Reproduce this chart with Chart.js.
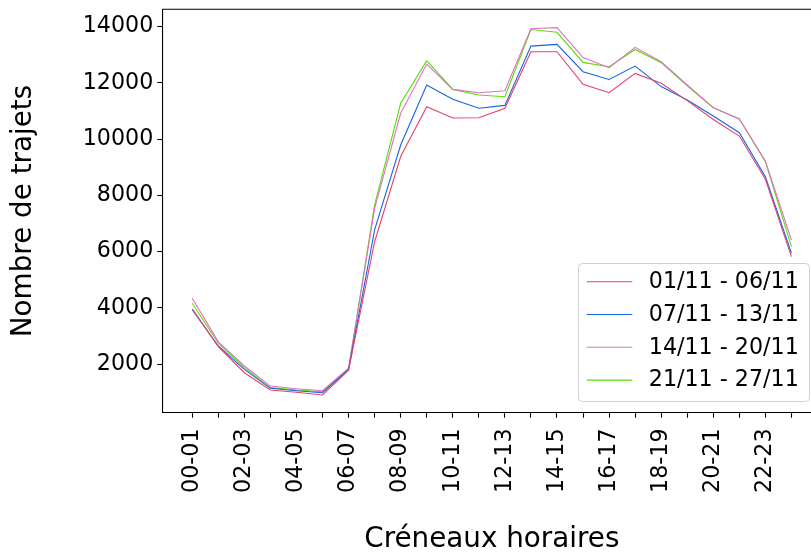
<!DOCTYPE html>
<html><head><meta charset="utf-8">
<script src="https://cdn.jsdelivr.net/npm/chart.js@4.4.1/dist/chart.umd.min.js"></script>
<style>
html,body{margin:0;padding:0;overflow:hidden;background:#fff;width:811px;height:556px}
#wrap{position:absolute;left:0;top:0;width:830px;height:556px}
</style>
</head><body><div id="wrap"><canvas id="c" width="830" height="556"></canvas></div>
<script>
const categories = ["00-01","01-02","02-03","03-04","04-05","05-06","06-07","07-08","08-09","09-10","10-11","11-12",
                    "12-13","13-14","14-15","15-16","16-17","17-18","18-19","19-20","20-21","21-22","22-23","23-24"];
const seriesLabels = ["01/11 - 06/11","07/11 - 13/11","14/11 - 20/11","21/11 - 27/11"];
const week1 = [3960,2620,1690,1075,995,900,1780,6350,9380,11150,10750,10760,11100,13110,13110,11950,11650,12340,11985,11370,10700,10110,8570,5820];
const week2 = [3930,2640,1810,1135,1050,980,1810,6770,9790,11925,11420,11100,11200,13310,13370,12400,12125,12600,11870,11390,10820,10230,8660,5940];
const week3 = [4340,2790,1930,1215,1120,1050,1850,7540,10920,12670,11770,11650,11720,13930,13965,12900,12540,13265,12755,11925,11120,10720,9220,6410];
const week4 = [4160,2740,1870,1160,1075,1015,1820,7660,11275,12790,11770,11570,11510,13900,13800,12730,12575,13190,12720,11900,11120,10715,9200,6175];
const yTickValues = [2000,4000,6000,8000,10000,12000,14000];
const xTitle = "Créneaux horaires";
const yTitle = "Nombre de trajets";

const colors = ["#e8406a","#1565e0","#e070c8","#55e000"];
const FAMILY = "'DejaVu Sans', sans-serif";
const allSeries = [week1, week2, week3, week4];

const framePlugin = {
  id: 'frame',
  afterDraw(chart) {
    const {ctx, chartArea: a} = chart;
    ctx.save();
    ctx.strokeStyle = '#000';
    ctx.lineWidth = 1.1;
    ctx.beginPath();
    ctx.moveTo(a.left, a.top); ctx.lineTo(a.right, a.top); ctx.lineTo(a.right, a.bottom);
    ctx.stroke();
    ctx.restore();
  }
};

const legendPlugin = {
  id: 'innerLegend',
  afterDraw(chart) {
    const {ctx, chartArea: a} = chart;
    const w = 231, h = 138;
    const right = a.right - 12.4, bottom = a.bottom - 11.7;
    const left = right - w, top = bottom - h;
    ctx.save();
    ctx.beginPath();
    ctx.roundRect(left + 0.5, top + 0.5, w, h, 4);
    ctx.fillStyle = 'rgba(255,255,255,0.8)';
    ctx.fill();
    ctx.strokeStyle = '#d0d0d0';
    ctx.lineWidth = 1;
    ctx.stroke();
    ctx.font = "22.2px " + FAMILY;
    ctx.textBaseline = 'middle';
    ctx.textAlign = 'left';
    chart.data.datasets.forEach((ds, i) => {
      const y = top + 18.7 + i * 32.8;
      ctx.strokeStyle = ds.borderColor;
      ctx.lineWidth = 1.1;
      ctx.beginPath();
      ctx.moveTo(left + 8.7, y); ctx.lineTo(left + 54.3, y);
      ctx.stroke();
      ctx.fillStyle = '#000';
      ctx.fillText(ds.label, left + 70.8, y + 0.5);
    });
    ctx.restore();
  }
};

new Chart(document.getElementById('c'), {
  type: 'line',
  data: {
    datasets: allSeries.map((s, k) => ({
      label: seriesLabels[k],
      data: s.map((v, i) => ({x: i, y: v})),
      borderColor: colors[k],
      backgroundColor: colors[k],
      borderWidth: 1.1,
      pointRadius: 0,
      fill: false,
      tension: 0
    }))
  },
  options: {
    responsive: false,
    animation: false,
    devicePixelRatio: 1,
    layout: {padding: {left: 0, top: 9.3, right: 830 - 821.4, bottom: 0}},
    plugins: {legend: {display: false}, tooltip: {enabled: false}},
    scales: {
      x: {
        type: 'linear', min: -1.15, max: 24.15,
        afterBuildTicks: s => { s.ticks = categories.map((_, i) => ({value: i})); },
        afterFit: s => { s.height = 143.3; s.paddingLeft = 0; s.paddingRight = 0; },
        grid: {drawOnChartArea: false, drawTicks: true, tickLength: 5, tickColor: '#000', tickWidth: 1.1},
        border: {display: true, color: '#000', width: 1.1},
        ticks: {
          autoSkip: false, maxRotation: 90, minRotation: 90, padding: 10.8, color: '#000',
          font: {family: FAMILY, size: 22.2},
          callback: v => (v % 2 === 0 ? categories[v] : '')
        },
        title: {display: true, text: xTitle, color: '#000',
                font: {family: FAMILY, size: 27.8, lineHeight: 1}, padding: {top: 0, bottom: 2}}
      },
      y: {
        type: 'linear', min: 268, max: 14619,
        afterBuildTicks: s => { s.ticks = yTickValues.map(v => ({value: v})); },
        afterFit: s => { s.width = 162.3; s.paddingTop = 0; s.paddingBottom = 0; },
        grid: {drawOnChartArea: false, drawTicks: true, tickLength: 5, tickColor: '#000', tickWidth: 1.1},
        border: {display: true, color: '#000', width: 1.1},
        ticks: {padding: 4, color: '#000', font: {family: FAMILY, size: 22.2}, callback: v => String(v)},
        title: {display: true, text: yTitle, color: '#000',
                font: {family: FAMILY, size: 27.8, lineHeight: 1}, padding: {top: 9.6, bottom: 0}}
      }
    }
  },
  plugins: [framePlugin, legendPlugin]
});
</script>
</body></html>
